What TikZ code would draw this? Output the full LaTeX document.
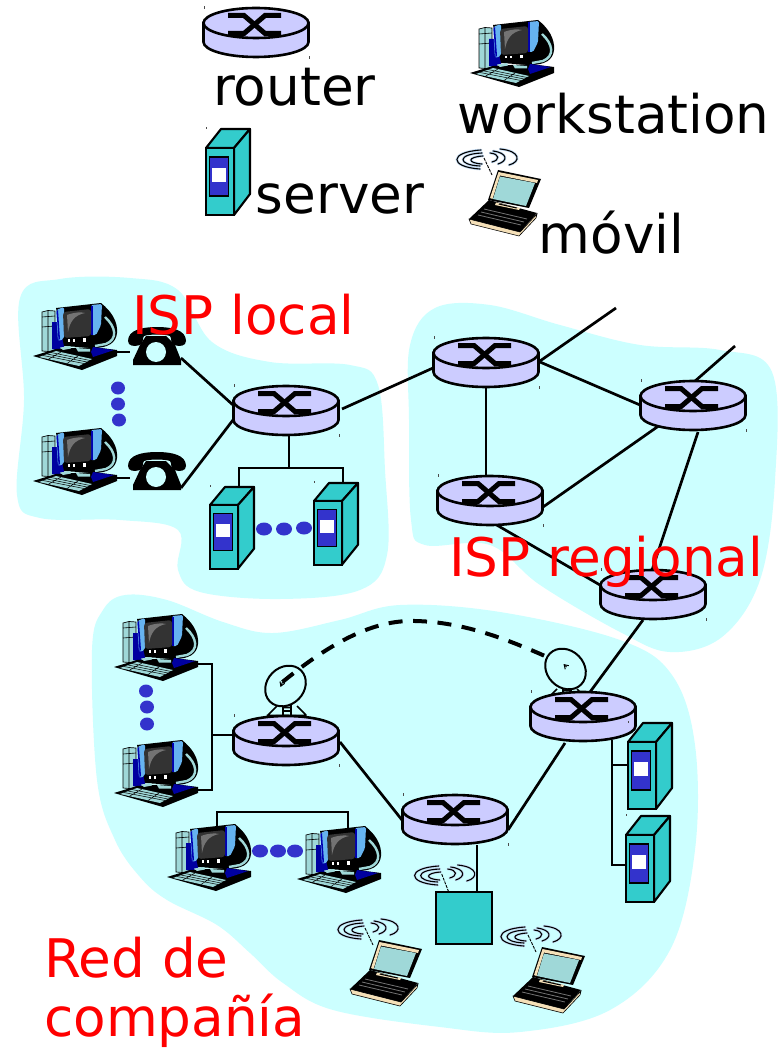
\documentclass[tikz,border=0pt]{standalone}
\usepackage{fontspec}
\usetikzlibrary{arrows.meta}
\setmainfont{DejaVu Sans}
\definecolor{cloudc}{HTML}{CCFFFF}
\definecolor{routerc}{HTML}{CCCCFF}
\definecolor{tealc}{HTML}{33CCCC}
\definecolor{dotc}{HTML}{3333CC}
\definecolor{kblue}{HTML}{0000A0}
\definecolor{sblue}{HTML}{66B3F0}
\definecolor{palet}{HTML}{9FD8D8}
\definecolor{creamc}{HTML}{F5E0B8}
\definecolor{waveb}{HTML}{C4DCF4}
\tikzset{
  x=1pt,y=-1pt,
  cloudbox/.style={fill=cloudc,draw=none},
  link/.style={draw=black,line width=2.7pt},
  dotmark/.style={fill=dotc,draw=none},
  lbl/.style={font=\fontsize{53.2}{60}\selectfont,anchor=base west,inner sep=0pt,text=black},
  redlbl/.style={lbl,text=red},
  tick/.style={fill=black!70,draw=none},
  dishbody/.style={fill=cloudc,draw=black,line width=2pt},
  routerpic/.pic={
    \path[fill=routerc,draw=black,line width=2.6pt] (-52.5,0) -- (-52.5,19) .. controls (-52.5,27.3) and (-29,34) .. (0,34) .. controls (29,34) and (52.5,27.3) .. (52.5,19) -- (52.5,0) -- cycle;
    \path[fill=routerc,draw=black,line width=2.6pt] (0,0) ellipse [x radius=52.5pt,y radius=15pt];
    \draw[line width=5pt,miter limit=3] (-28,-7.5) -- (-12,-7.5) -- (9,10.5) -- (25,10.5);
    \draw[line width=5pt,miter limit=3] (-28,10.5) -- (-12,10.5) -- (9,-7.5) -- (25,-7.5);
    \fill[tick] (-52.5,-17) rectangle (-51.5,-14);
    \fill[tick] (52.5,33) rectangle (53.5,36);
  },
  serverpic/.pic={
    \path[fill=tealc,draw=black,line width=2.1pt,line join=round] (0,20) -- (15,1) -- (44,1) -- (28,20) -- cycle;
    \path[fill=tealc,draw=black,line width=2.1pt,line join=round] (28,20) -- (44,1) -- (44,66) -- (28,87) -- cycle;
    \path[fill=tealc,draw=black,line width=2.1pt] (0,20) rectangle (28,87);
    \path[fill=dotc,draw=black,line width=1.5pt] (3.5,29) rectangle (22.5,68);
    \fill[white] (6,40) rectangle (20,54);
    \fill[tick] (-0.5,-1) rectangle (0.5,1);
  },
  wspic/.pic={
    % tower
    \path[fill=palet,draw=black,line width=0.7pt] (9,9) -- (15,7.5) -- (22,8) -- (22,49) -- (9,48) -- cycle;
    \draw[black,line width=0.6pt] (15,7.5) -- (15,48) (9,14) -- (22,13) (9,24) -- (22,23);
    % left blue base
    \fill[kblue] (19,19) -- (31,19) -- (31,44) -- (24,47) -- (19,46) -- cycle;
    % monitor body
    \fill[black] (23,5) -- (50,2) -- (68,0) .. controls (78,8) and (85,18) .. (84,30) .. controls (83,40) and (75,45) .. (60,45) -- (31,43) -- cycle;
    \draw[palet,line width=2.4pt] (72,14) .. controls (83,24) and (85,36) .. (73,41) -- (62,43);
    % keyboard
    \fill[black] (0,53) -- (23,46) -- (60,44) -- (84,47) -- (84,53) -- (49,67) -- cycle;
    \fill[palet] (6,54) -- (23,48) -- (59,56) -- (46,63) -- cycle;
    \draw[black,line width=0.5pt] (10,52.5) -- (51,60.5) (14,51) -- (54,59) (18,49.5) -- (57,57.5) (28,49) -- (15,56.5) (45,53) -- (34,60.5);
    \fill[palet] (27,44.5) -- (37,43) -- (38,45.5) -- (30,47) -- cycle;
    \fill[palet] (43,45) -- (57,46) -- (57,48.5) -- (45,48.5) -- cycle;
    \fill[kblue] (60,44) -- (81,47) -- (60,54) -- (58,49) -- cycle;
    % strips
    \fill[sblue,rounded corners=2pt] (23,7) -- (31,4) -- (31,36) -- (25,38) -- cycle;
    \fill[sblue,rounded corners=1.5pt] (58,2) -- (69,1) -- (68,22) -- (63,32) -- (58,32) -- cycle;
    \fill[blue!70!black] (23.5,8) -- (25,7) -- (27,36) -- (25.5,37) -- cycle;
    \fill[blue!70!black] (58,2.5) -- (60,2.5) -- (60,32) -- (58,32) -- cycle;
    % screen
    \fill[black!80,rounded corners=3pt] (30,9) -- (58,6) -- (58,33) -- (31,35) -- cycle;
    \fill[black!55] (34,12) .. controls (42,9) and (48,9) .. (52,10) .. controls (42,12) and (37,18) .. (35,29) -- cycle;
    \fill[white] (34.5,36) rectangle (37,38.5);
    \fill[white] (39.5,36) rectangle (42,38.5);
    \fill[white] (49.5,35) rectangle (53,38.5);
  },
  wavespic/.pic={
    \foreach \w/\c in {2.6pt/waveb,1.1pt/black}{
      \draw[\c,line width=\w,line cap=round]
        (24,2) .. controls (-8,4) and (-8,19) .. (23,21)
        (25,5) .. controls (0,6) and (0,17) .. (23,18)
        (26,8) .. controls (10,9) and (10,15) .. (25,16)
        (43,1) .. controls (64,3) and (64,14) .. (52,17)
        (36,3) .. controls (51,5) and (51,13) .. (41,16)
        (33,5) .. controls (43,6) and (43,12) .. (35,14);
    }
  },
  laptoppic/.pic={
    \pic {wavespic};
    \draw[black,line width=0.9pt,dash pattern=on 3pt off 1pt] (27,10) -- (35,27);
    % lid
    \fill[black] (41,22) -- (84,31) -- (72,60) -- (31,52) -- cycle;
    \fill[creamc] (41.5,24) -- (81,32) -- (80,35) -- (43,27.5) -- (35.5,51) -- (33,50) -- cycle;
    \fill[palet] (43,28.5) -- (78,35) -- (69,58) -- (36,51) -- cycle;
    % lip
    \path[fill=creamc,draw=black,line width=0.6pt] (12,71) -- (63,84) -- (80,66) -- (79,70) -- (62,88) -- (14,76) -- cycle;
    % base
    \fill[black] (12,71) -- (32,52) -- (80,65) -- (63,84) -- cycle;
    \draw[black!55,line width=0.8pt] (27,61) -- (70,71) (24,64) -- (67,74) (21,67) -- (64,77);
    \fill[creamc] (39,54.5) -- (63,60) -- (62,62) -- (38,57) -- cycle;
    \fill[black] (42,55.5) -- (60,59.5) -- (59.5,60.5) -- (41.5,56.5) -- cycle;
  },
  phonepic/.pic={
    \fill[black] (0,14) .. controls (0,3) and (14,0) .. (29,0) .. controls (44,0) and (58,3) .. (58,14) .. controls (58,19) and (52,20) .. (46,18) .. controls (42,16) and (44,11) .. (42,9) .. controls (36,7) and (22,7) .. (16,9) .. controls (14,11) and (16,16) .. (12,18) .. controls (6,20) and (0,19) .. (0,14) -- cycle;
    \fill[black] (18,9) -- (38,9) -- (47,18) -- (53,33) -- (53,38) -- (5,38) -- (5,33) -- (12,18) -- cycle;
    \fill[cloudc] (28,25) circle [radius=10pt];
  }
}
\begin{document}
\begin{tikzpicture}
\useasboundingbox (0,0) rectangle (778,1048);
\fill[white] (0,0) rectangle (778,1048);
% clouds
\path[cloudbox] plot[smooth cycle,tension=0.6] coordinates {(20,298) (60,279) (130,278) (178,290) (212,342) (270,362) (350,365) (378,385) (385,470) (387,555) (360,590) (280,599) (200,592) (178,570) (178,530) (120,520) (40,518) (17,495) (24,400)};
\path[cloudbox] plot[smooth cycle,tension=0.6] coordinates {(410,345) (435,308) (490,305) (560,325) (640,345) (720,350) (772,372) (775,480) (760,580) (722,637) (670,652) (620,632) (540,585) (490,545) (425,545) (411,520) (409,420)};
\path[cloudbox] plot[smooth cycle,tension=0.6] coordinates {(92,650) (103,610) (125,595) (167,600) (223,622) (273,633) (340,620) (400,605) (500,612) (620,640) (672,675) (695,745) (695,850) (670,950) (610,1010) (520,1032) (440,1027) (333,1010) (283,983) (250,953) (217,925) (167,900) (140,877) (115,840) (97,780)};
% positions
\coordinate (rLeg) at (256,23);
\coordinate (rLoc) at (286,401);
\coordinate (rTop) at (486,353);
\coordinate (rRig) at (693,396);
\coordinate (rMid) at (490,491);
\coordinate (rBot) at (653,585);
\coordinate (rCR) at (583,707);
\coordinate (rCL) at (286,731);
\coordinate (rCM) at (455,810);
\coordinate (free1) at (616,308);
\coordinate (free2) at (735,346);
\coordinate (wsA) at (33,303);
\coordinate (wsB) at (33,428);
\coordinate (wsC) at (114,614);
\coordinate (wsD) at (114,740);
\coordinate (wsE) at (167,824);
\coordinate (wsF) at (297,826);
\coordinate (phA) at (128,327);
\coordinate (phB) at (128,452);
\coordinate (svA) at (210,486);
\coordinate (svB) at (314,482);
\coordinate (svC) at (628,722);
\coordinate (svD) at (626,815);
\coordinate (box) at (436,892);
\coordinate (dishL) at (285.5,686);
\coordinate (dishR) at (565.5,669);
% links
\draw[link] ([shift={(83,49)}]wsA) -- ([shift={(2,25)}]phA);
\draw[link] ([shift={(83,50)}]wsB) -- ([shift={(2,26)}]phB);
\draw[link] ([shift={(53,31)}]phA) -- ([shift={(-53,4)}]rLoc);
\draw[link] ([shift={(53,36)}]phB) -- ([shift={(-53,19)}]rLoc);
\draw[link] ([shift={(56,8)}]rLoc) -- ([shift={(-53,15)}]rTop);
\draw[link] ([shift={(54,8)}]rTop) -- (free1);
\draw[link] ([shift={(-15,0)}]rRig) -- (free2);
\draw[link] ([shift={(54,9)}]rTop) -- ([shift={(-53,9)}]rRig);
\draw[link] (rTop) -- ([shift={(0,-15)}]rTop |- rMid);
\draw[link] ([shift={(53,16)}]rMid) -- ([shift={(-33,29)}]rRig);
\draw[link] ([shift={(5,33)}]rMid) -- ([shift={(-53,0)}]rBot);
\draw[link] ([shift={(5,36)}]rRig) -- ([shift={(-1,-15)}]rBot);
\draw[link] ([shift={(-10,35)}]rBot) -- ([shift={(7,-15)}]rCR);
\draw[link] ([shift={(-18,36)}]rCR) -- ([shift={(53,20)}]rCM);
\draw[link] ([shift={(54,11)}]rCL) -- ([shift={(-53,10)}]rCM);
\draw[link] ([shift={(22,35)}]rCM) -- ([shift={(22,0)}]rCM |- box);
\draw[link] ([shift={(3,34)}]rLoc) -- ([shift={(3,67)}]rLoc);
\draw[link] ([shift={(29,10)}]svA) |- ([shift={(29,-14)}]svB) -- ([shift={(29,10)}]svB);
\draw[link] ([shift={(29,33)}]rCR) |- ([shift={(5,43)}]svC);
\draw[link] ([shift={(29,33)}]rCR) |- ([shift={(5,50)}]svD);
\draw[link] ([shift={(58,50)}]wsC) -| ([shift={(98,176)}]wsC) -- ([shift={(58,176)}]wsC);
\draw[link] ([shift={(-53,4)}]rCL) -- ([shift={(98,121)}]wsC);
\draw[link] ([shift={(50,10)}]wsE) |- ([shift={(51,-14)}]wsF) -- ([shift={(51,4)}]wsF);
% satellite stands
\foreach \n in {dishL,dishR}{
  \draw[black,line width=1.7pt] ([shift={(-8.5,20)}]\n) -- ([shift={(-17.5,29)}]\n) ([shift={(11.5,20)}]\n) -- ([shift={(20.5,29)}]\n)
     ([shift={(-2.5,18)}]\n) -- ([shift={(-2.5,29)}]\n) ([shift={(5.5,18)}]\n) -- ([shift={(5.5,29)}]\n)
     ([shift={(-2.5,21.5)}]\n) -- ([shift={(5.5,21.5)}]\n) ([shift={(-2.5,25)}]\n) -- ([shift={(5.5,25)}]\n)
     ([shift={(-19,29.5)}]\n) -- ([shift={(21,29.5)}]\n);
}
% left dish
\begin{scope}[shift={(dishL)},rotate=45]
  \path[dishbody] (0,0) ellipse [x radius=22pt,y radius=18.5pt];
\end{scope}
% satellite link
\draw[black,line width=4pt,dash pattern=on 14pt off 10.5pt] ([shift={(-3,-4)}]dishL) .. controls (340,635) and (380,620) .. (415,621) .. controls (465,622) and (510,640) .. ([shift={(-5,-6)}]dishR);
% right dish
\begin{scope}[shift={(dishR)},rotate=-45]
  \path[dishbody] (0,0) ellipse [x radius=22pt,y radius=18.5pt];
\end{scope}
\draw[black,line width=1pt,-{Straight Barb[length=4pt,width=5pt]}] ([shift={(1,-2)}]dishR) -- ([shift={(-2,-5)}]dishR);
\draw[black,line width=1pt,-{Straight Barb[length=4pt,width=5pt]}] ([shift={(-3,-4)}]dishL) -- ([shift={(-5,1)}]dishL);
% routers
\foreach \n in {rLeg,rLoc,rTop,rRig,rMid,rBot,rCR,rCL,rCM}{\pic at (\n) {routerpic};}
% servers
\pic at (206,128) {serverpic};
\pic[yscale=0.95] at (svA) {serverpic};
\pic[yscale=0.95] at (svB) {serverpic};
\pic at (svC) {serverpic};
\pic at (svD) {serverpic};
% workstations
\pic at (470,20) {wspic};
\foreach \n in {wsA,wsB,wsC,wsD,wsE,wsF}{\pic at (\n) {wspic};}
% phones
\foreach \n in {phA,phB}{\pic at (\n) {phonepic};}
% laptops
\pic at (457,148) {laptoppic};
\pic at (338,918) {laptoppic};
\pic at (501,925) {laptoppic};
% wireless box
\path[fill=tealc,draw=black,line width=2pt] (box) rectangle ++(56,52);
\pic at (414.7,864) {wavespic};
\draw[black,line width=0.9pt,dash pattern=on 3pt off 1pt] (441.7,874) -- (448.7,892);
% dots
\foreach \p in {(118,388),(118,404),(119,420),(146,691),(147,707),(147,724)}{\fill[dotmark] \p ellipse [x radius=7pt,y radius=6.5pt];}
\foreach \p in {(264,529),(284,529),(304,528),(260,851),(278,851),(295,851)}{\fill[dotmark] \p ellipse [x radius=8pt,y radius=6.5pt];}
% labels
\node[lbl] (tRouter) at (213,106) {router};
\node[lbl] (tServer) at (255.5,214) {server};
\node[lbl] (tWork) at (457.5,134) {workstation};
\node[lbl] (tMovil) at (538.5,254) {móvil};
\node[redlbl] (tLocal) at (132,334) {ISP local};
\node[redlbl] (tRegional) at (449,576) {ISP regional};
\node[redlbl] (tRed) at (44,977) {Red de};
\node[redlbl] (tComp) at (44,1036) {compañía};
\end{tikzpicture}
\end{document}
